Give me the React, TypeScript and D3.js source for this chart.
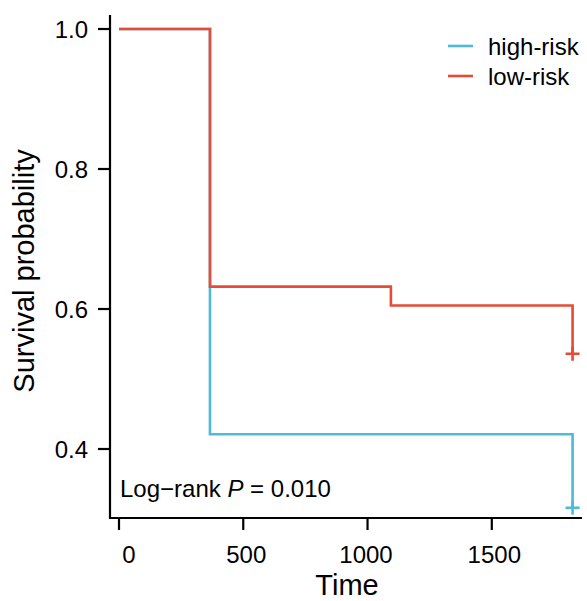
import React, { useEffect, useRef } from 'react'
import * as d3 from 'd3'

// survival curves
const highTimes = [0, 366, 1825]
const highSurv = [1, 0.421, 0.316]
const lowTimes = [0, 366, 1094, 1825]
const lowSurv = [1, 0.632, 0.605, 0.536]
const xTicks = [0, 500, 1000, 1500]
const yTicks = [0.4, 0.6, 0.8, 1.0]
const groups = ['high-risk', 'low-risk']
const colors = ['#4DBBD5', '#E64B35']

const App = () => {
  const ref = useRef<SVGSVGElement>(null)

  useEffect(() => {
    const svg = d3.select(ref.current)
    svg.selectAll('*').remove()
    const font = "'Liberation Sans', Arial, sans-serif"

    const x = d3.scaleLinear().domain([0, 1500]).range([119, 491.8])
    const y = d3.scaleLinear().domain([0.4, 1.0]).range([449, 29])
    const left = 110, bottom = 518
    // small label nudges seen in the original raster
    const labelNudge = [10, 3, -1.5, 2.5]

    const line = d3.line<[number, number]>()
      .x(d => x(d[0]))
      .y(d => y(d[1]))
      .curve(d3.curveStepAfter)

    const series = [
      highTimes.map((t, i) => [t, highSurv[i]] as [number, number]),
      lowTimes.map((t, i) => [t, lowSurv[i]] as [number, number])
    ]

    series.forEach((pts, i) => {
      svg.append('path')
        .attr('d', line(pts))
        .attr('fill', 'none')
        .attr('stroke', colors[i])
        .attr('stroke-width', 2.6)
      const last = pts[pts.length - 1]
      svg.append('path')
        .attr('d', `M${x(last[0]) - 7},${y(last[1])}h14M${x(last[0])},${y(last[1]) - 7}v14`)
        .attr('stroke', colors[i])
        .attr('stroke-width', 2.6)
    })

    // axes
    const xAxis = svg.append('g')
    xAxis.append('line')
      .attr('x1', left - 1).attr('x2', 582).attr('y1', bottom).attr('y2', bottom)
      .attr('stroke', 'black').attr('stroke-width', 2.2)
    xTicks.forEach((t, i) => {
      xAxis.append('line')
        .attr('x1', x(t)).attr('x2', x(t)).attr('y1', bottom).attr('y2', bottom + 12)
        .attr('stroke', 'black').attr('stroke-width', 2.2)
      xAxis.append('text')
        .attr('x', x(t) + labelNudge[i]).attr('y', 563)
        .attr('text-anchor', 'middle')
        .attr('font-family', font).attr('font-size', 24)
        .text(t)
    })

    const yAxis = svg.append('g')
    yAxis.append('line')
      .attr('x1', left).attr('x2', left).attr('y1', 15).attr('y2', bottom + 1)
      .attr('stroke', 'black').attr('stroke-width', 2.2)
    yTicks.forEach(t => {
      yAxis.append('line')
        .attr('x1', left - 12).attr('x2', left).attr('y1', y(t)).attr('y2', y(t))
        .attr('stroke', 'black').attr('stroke-width', 2.2)
      yAxis.append('text')
        .attr('x', 88).attr('y', y(t) + 8.5)
        .attr('text-anchor', 'end')
        .attr('font-family', font).attr('font-size', 24)
        .text(t.toFixed(1))
    })

    svg.append('text')
      .attr('x', 347).attr('y', 595)
      .attr('text-anchor', 'middle')
      .attr('font-family', font).attr('font-size', 29)
      .text('Time')
    svg.append('text')
      .attr('transform', 'translate(34,271) rotate(-90)')
      .attr('text-anchor', 'middle')
      .attr('font-family', font).attr('font-size', 29)
      .text('Survival probability')

    // legend
    groups.forEach((g, i) => {
      const ly = 46 + i * 30
      svg.append('line')
        .attr('x1', 448).attr('x2', 473).attr('y1', ly).attr('y2', ly)
        .attr('stroke', colors[i]).attr('stroke-width', 2.6)
      svg.append('text')
        .attr('x', 488).attr('y', ly + 8.5)
        .attr('font-family', font).attr('font-size', 24)
        .text(g)
    })

    const p = svg.append('text')
      .attr('x', 120).attr('y', 497)
      .attr('font-family', font).attr('font-size', 24)
    p.append('tspan').text('Log\u2212rank ')
    p.append('tspan').attr('font-style', 'italic').text('P')
    p.append('tspan').text(' = 0.010')
  }, [])

  return (
    <svg ref={ref} width={587} height={601}
      style={{ position: 'absolute', left: 0, top: 0, background: 'white' }} />
  )
}

export default App
